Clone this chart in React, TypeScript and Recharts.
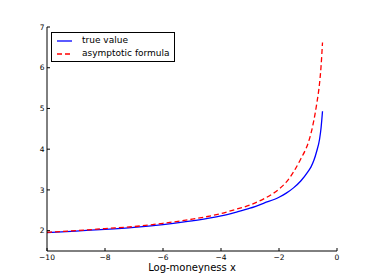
import React from 'react';
import { LineChart, Line, XAxis, YAxis } from 'recharts';

const xValues = [-10, -9, -8, -7, -6, -5, -4, -3.5, -3, -2.5, -2, -1.75, -1.5, -1.25, -1, -0.9, -0.8, -0.7, -0.6, -0.55, -0.5];
const trueValues = [1.95, 1.99, 2.03, 2.08, 2.15, 2.24, 2.36, 2.45, 2.55, 2.68, 2.82, 2.92, 3.05, 3.22, 3.45, 3.56, 3.72, 3.95, 4.25, 4.52, 4.93];
const asymptoticValues = [1.96, 2.0, 2.05, 2.1, 2.18, 2.28, 2.42, 2.52, 2.63, 2.79, 3.02, 3.19, 3.44, 3.76, 4.14, 4.38, 4.7, 5.11, 5.63, 6.03, 6.62];
const xTicks = [-10, -8, -6, -4, -2, 0];
const yTicks = [2, 3, 4, 5, 6, 7];
const seriesNames = ['true value', 'asymptotic formula'];

const data = xValues.map((x, i) => ({ x, trueV: trueValues[i], asym: asymptoticValues[i] }));

const FONT = 'DejaVu Sans, sans-serif';
const fmt = (v: number) => (v < 0 ? '\u2212' + Math.abs(v) : String(v));

const BottomTick = (p: any) => (
  <g>
    <line x1={p.x} x2={p.x} y1={p.y} y2={p.y - 3} stroke="#000" strokeWidth={1} />
    <text x={p.x} y={p.y + 9} textAnchor="middle" fontSize={7.5} fontFamily={FONT} fill="#000">{fmt(p.payload.value)}</text>
  </g>
);
const TopTick = (p: any) => (
  <line x1={p.x} x2={p.x} y1={p.y} y2={p.y + 3} stroke="#000" strokeWidth={1} />
);
const LeftTick = (p: any) => (
  <g>
    <line x1={p.x} x2={p.x + 3} y1={p.y} y2={p.y} stroke="#000" strokeWidth={1} />
    <text x={p.x - 2.5} y={p.y + 2.7} textAnchor="end" fontSize={7.5} fontFamily={FONT} fill="#000">{fmt(p.payload.value)}</text>
  </g>
);
const RightTick = (p: any) => (
  <line x1={p.x} x2={p.x - 3} y1={p.y} y2={p.y} stroke="#000" strokeWidth={1} />
);

const LegendBox = () => (
  <div style={{ position: 'absolute', left: 51, top: 32, width: 124, height: 30, border: '1px solid #000', background: '#fff', boxSizing: 'border-box', fontFamily: FONT, fontSize: 9, lineHeight: '13px', paddingTop: 1, whiteSpace: 'nowrap' }}>
    {seriesNames.map((n, i) => (
      <div key={n} style={{ display: 'flex', alignItems: 'center', height: 13 }}>
        <svg width={25} height={4} style={{ marginLeft: 5, flex: 'none' }}>
          <line x1={0} x2={15} y1={2} y2={2} stroke={i === 0 ? '#0000ff' : '#ff0000'} strokeWidth={1.3} strokeDasharray={i === 0 ? undefined : '5 3'} />
        </svg>
        <span style={{ color: '#000' }}>{n}</span>
      </div>
    ))}
  </div>
);

export default function App() {
  return (
    <div style={{ position: 'absolute', left: 0, top: 0, width: 374, height: 280, background: '#fff' }}>
      <LineChart width={374} height={280} data={data} margin={{ top: 27, right: 37, bottom: 0, left: 0 }}>
        <XAxis dataKey="x" type="number" domain={[-10, 0]} ticks={xTicks} height={29} tickSize={0} tickMargin={0}
          tick={<BottomTick />} axisLine={{ stroke: '#000' }} tickLine={false} allowDataOverflow
          label={{ value: 'Log-moneyness x', position: 'insideBottom', offset: 9, fontSize: 10, fontFamily: FONT, fill: '#000' }} />
        <XAxis xAxisId="top" orientation="top" dataKey="x" type="number" domain={[-10, 0]} ticks={xTicks} height={0}
          tickSize={0} tickMargin={0} tick={<TopTick />} axisLine={{ stroke: '#000' }} tickLine={false} />
        <YAxis type="number" domain={[1.5, 7]} ticks={yTicks} width={47} tickSize={0} tickMargin={0}
          tick={<LeftTick />} axisLine={{ stroke: '#000' }} tickLine={false} allowDataOverflow />
        <YAxis yAxisId="right" orientation="right" type="number" domain={[1.5, 7]} ticks={yTicks} width={0}
          tickSize={0} tickMargin={0} tick={<RightTick />} axisLine={{ stroke: '#000' }} tickLine={false} />
        <Line dataKey="trueV" name={seriesNames[0]} type="monotone" stroke="#0000ff" strokeWidth={1.3} dot={false} isAnimationActive={false} />
        <Line dataKey="asym" name={seriesNames[1]} type="monotone" stroke="#ff0000" strokeWidth={1.3} strokeDasharray="5 3" dot={false} isAnimationActive={false} />
      </LineChart>
      <LegendBox />
    </div>
  );
}
